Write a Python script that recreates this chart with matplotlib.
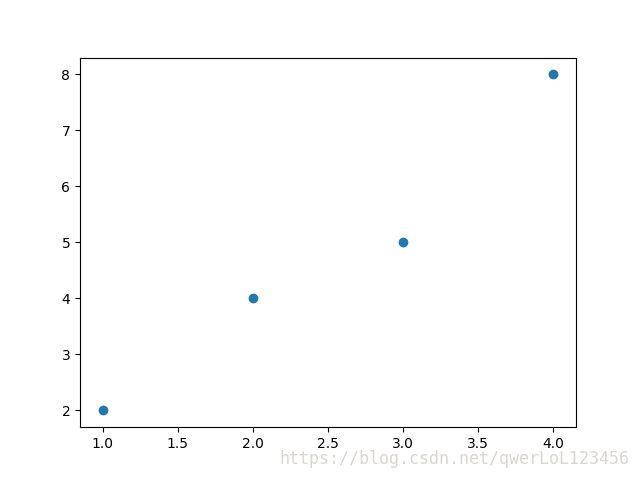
import matplotlib
matplotlib.use("Agg")
import matplotlib.pyplot as plt

x = [1, 2, 3, 4]
y = [2, 4, 5, 8]

fig = plt.figure(figsize=(6.4, 4.8), dpi=100)
plt.scatter(x, y)

# watermark from the source page
fig.text(0.983, 0.025, "https://blog.csdn.net/qwerLoL123456", ha="right", va="bottom",
         fontsize=12, color="#dad7d2", family="DejaVu Sans Mono")

fig.savefig("out.png")
